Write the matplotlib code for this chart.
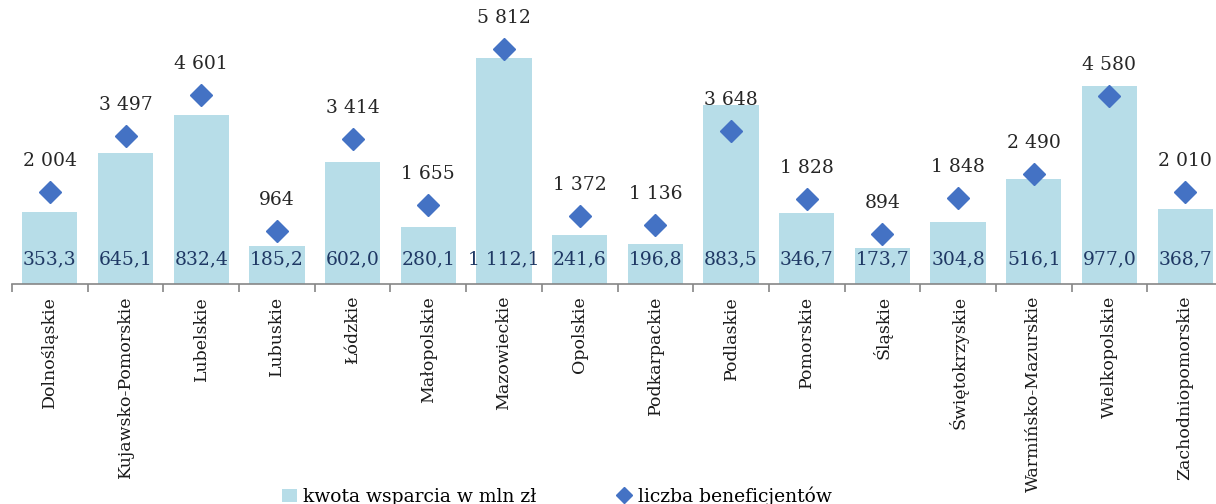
import matplotlib
matplotlib.use("Agg")
import matplotlib.pyplot as plt
from matplotlib.lines import Line2D
from matplotlib.patches import Patch

regions = ["Dolnośląskie", "Kujawsko-Pomorskie", "Lubelskie", "Lubuskie", "Łódzkie",
           "Małopolskie", "Mazowieckie", "Opolskie", "Podkarpackie", "Podlaskie",
           "Pomorskie", "Śląskie", "Świętokrzyskie", "Warmińsko-Mazurskie",
           "Wielkopolskie", "Zachodniopomorskie"]
kwota = [353.3, 645.1, 832.4, 185.2, 602.0, 280.1, 1112.1, 241.6, 196.8, 883.5,
         346.7, 173.7, 304.8, 516.1, 977.0, 368.7]
beneficjenci = [2004, 3497, 4601, 964, 3414, 1655, 5812, 1372, 1136, 3648,
                1828, 894, 1848, 2490, 4580, 2010]

def fmt_int(v):
    return f"{v:,}".replace(",", " ")

def fmt_dec(v):
    s = f"{v:,.1f}"
    return s.replace(",", " ").replace(".", ",")

BAR = "#B7DDE8"
DIA = "#4472C4"
SERIF = ["DejaVu Serif"]

W, H = 1216, 504
fig = plt.figure(figsize=(W / 100, H / 100), dpi=100)
ax_bottom = 283.5
ax = fig.add_axes([12 / W, (H - ax_bottom) / H, (1223 - 12) / W, ax_bottom / H])
ax2 = ax.twinx()

x = list(range(len(regions)))
ax.bar(x, kwota, width=0.73, color=BAR, zorder=2)
ax.set_ylim(0, 1400)
ax.set_xlim(-0.5, len(regions) - 0.5)

for xi, v in zip(x, kwota):
    ax.annotate(fmt_dec(v), (xi, 0), xytext=(0, 24), textcoords="offset pixels",
                ha="center", va="center", fontsize=13.5, family=SERIF,
                color="#1F3864", zorder=3)

ax2.plot(x, beneficjenci, linestyle="none", marker="D", markersize=11,
         color=DIA, zorder=4)
ax2.set_ylim(-423, 7127)
for xi, v in zip(x, beneficjenci):
    ax2.annotate(fmt_int(v), (xi, v), xytext=(0, 31), textcoords="offset pixels",
                 ha="center", va="center", fontsize=13.5, family=SERIF, color="#262626")

for a in (ax, ax2):
    for s in ("top", "right", "left"):
        a.spines[s].set_visible(False)
    a.set_yticks([])
ax2.spines["bottom"].set_visible(False)
ax.spines["bottom"].set_color("#868686")
ax.spines["bottom"].set_linewidth(1.2)

ax.set_xticks([i - 0.5 for i in range(len(regions) + 1)])
ax.set_xticklabels([])
ax.tick_params(axis="x", length=6, color="#868686", width=1.2)
ax.set_xticks(x, minor=True)
ax.set_xticklabels(regions, minor=True, rotation=90, fontsize=12.5, family=SERIF,
                   color="#1a1a1a")
ax.tick_params(axis="x", which="minor", length=0, pad=9)

handles = [Patch(facecolor=BAR, edgecolor="none", label="kwota wsparcia w mln zł"),
           Line2D([], [], linestyle="none", marker="D", color=DIA, markersize=8,
                  label="liczba beneficjentów")]
fig.legend(handles=handles, loc="center", ncol=2, bbox_to_anchor=(0.458, 1 - 496 / H),
           frameon=False, prop={"family": SERIF, "size": 13.5}, columnspacing=4.3,
           handlelength=0.8, handletextpad=0.3)

fig.savefig("out.png", dpi=100)
